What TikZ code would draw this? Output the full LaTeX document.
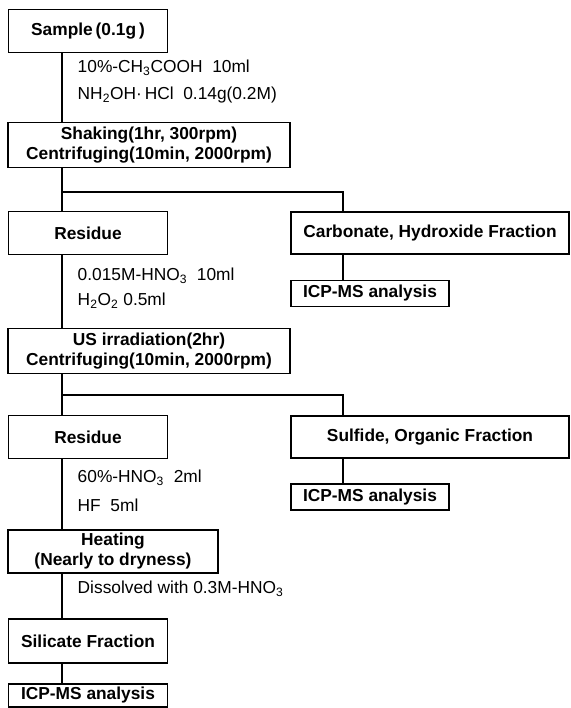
\documentclass[tikz,border=0pt]{standalone}
\usepackage{fontspec}
\setmainfont{Liberation Sans}
\begin{document}
\begin{tikzpicture}[x=0.75pt,y=-0.75pt,line width=1.1pt,
    box/.style={draw,align=center,inner sep=0pt,font=\fontsize{13}{15}\selectfont\bfseries},
    narrow/.style={box,minimum width=119pt,minimum height=32pt},
    broad/.style={box,minimum width=211.5pt,minimum height=34pt},
    frac/.style={box,minimum width=208.5pt,minimum height=31.5pt},
    icp/.style={box,minimum width=118.5pt,minimum height=19.5pt},
    note/.style={anchor=west,inner sep=0pt,font=\fontsize{13}{15}\selectfont}]
\useasboundingbox (0,0) rectangle (571,708);
\coordinate (spine) at (62,0);
\coordinate (branch) at (343,0);
\coordinate (split1) at (0,192);
\coordinate (split2) at (0,395);
\node[narrow] (sample) at (88,31) {Sample\,(0.1g\,)};
\node[broad] (shake) at (149,145) {Shaking(1hr, 300rpm)\\Centrifuging(10min, 2000rpm)};
\node[narrow] (res1) at (88,233) {Residue};
\node[frac] (carb) at (430,233) {Carbonate, Hydroxide Fraction};
\node[icp] (icp1) at (370,293.5) {ICP-MS analysis};
\node[broad] (us) at (149,351) {US irradiation(2hr)\\Centrifuging(10min, 2000rpm)};
\node[narrow] (res2) at (88,437) {Residue};
\node[frac] (sulf) at (430,437) {Sulfide, Organic Fraction};
\node[icp] (icp2) at (370,497) {ICP-MS analysis};
\node[box,minimum width=157.5pt,minimum height=32pt] (heat) at (113,551.5) {Heating\\(Nearly to dryness)};
\node[narrow,minimum height=33pt] (sil) at (88,641) {Silicate Fraction};
\node[icp,minimum width=119pt,minimum height=17pt] (icp3) at (88,695.5) {ICP-MS analysis};
\node[note] (acid1) at (77,68) {10\%-CH\textsubscript{3}COOH\ \ 10ml};
\node[note] (acid2) at (77,95) {NH\textsubscript{2}OH·\,HCl\ \ 0.14g(0.2M)};
\node[note] (acid3) at (77,276) {0.015M-HNO\textsubscript{3}\ \ 10ml};
\node[note] (acid4) at (77,301) {H\textsubscript{2}O\textsubscript{2} 0.5ml};
\node[note] (acid5) at (77,478) {60\%-HNO\textsubscript{3}\ \ 2ml};
\node[note] (acid6) at (77,505) {HF\ \ 5ml};
\node[note] (acid7) at (77,589) {Dissolved with 0.3M-HNO\textsubscript{3}};
\draw (sample.south -| spine) -- (shake.north -| spine);
\draw (shake.south -| spine) -- (res1.north -| spine);
\draw (split1 -| spine) -- (split1 -| branch) -- (carb.north -| branch);
\draw (carb.south -| branch) -- (icp1.north -| branch);
\draw (res1.south -| spine) -- (us.north -| spine);
\draw (us.south -| spine) -- (res2.north -| spine);
\draw (split2 -| spine) -- (split2 -| branch) -- (sulf.north -| branch);
\draw (sulf.south -| branch) -- (icp2.north -| branch);
\draw (res2.south -| spine) -- (heat.north -| spine);
\draw (heat.south -| spine) -- (sil.north -| spine);
\draw (sil.south -| spine) -- (icp3.north -| spine);
\end{tikzpicture}
\end{document}
